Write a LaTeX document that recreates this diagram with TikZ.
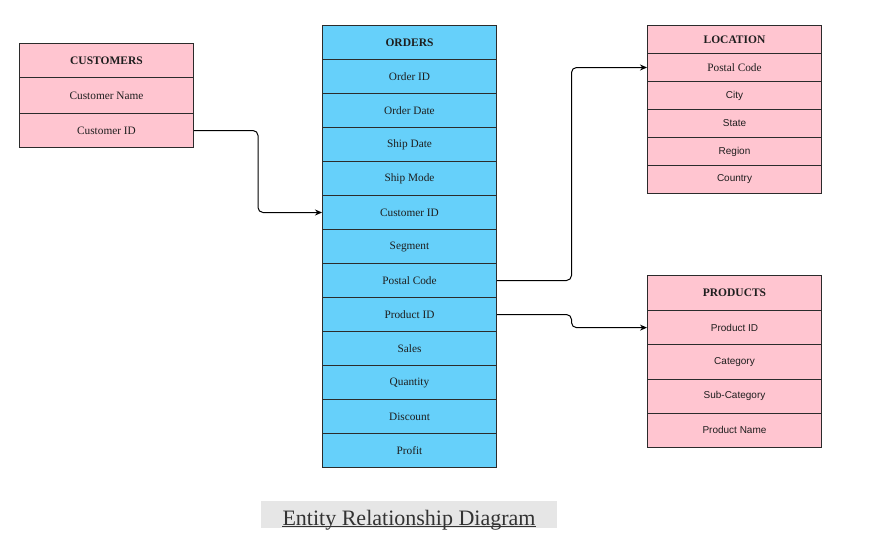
\documentclass[tikz,border=0pt]{standalone}
\usepackage{fontspec}
\setmainfont{Liberation Serif}
\newfontfamily\rowsans{Liberation Sans}
\usetikzlibrary{arrows.meta}
\definecolor{pinkfill}{HTML}{FFC5D0}
\definecolor{bluefill}{HTML}{66D0FA}
\definecolor{edgecol}{HTML}{2B2B2B}
\definecolor{titlebg}{HTML}{E6E6E6}
\definecolor{txt}{HTML}{1E1E1E}
\definecolor{titletxt}{HTML}{333333}
\tikzset{
  cell/.style={draw=edgecol, line width=1pt, anchor=north west, inner sep=0pt, text=txt, align=center},
  pinkcell/.style={cell, fill=pinkfill},
  bluecell/.style={cell, fill=bluefill},
  head/.style={font=\fontsize{11.5}{13}\selectfont\bfseries},
  srow/.style={font=\fontsize{11.3}{13}\selectfont},
  ssans/.style={font=\rowsans\fontsize{10}{12}\selectfont},
  conn/.style={draw=black, line width=1pt, rounded corners=5pt, -{Stealth[length=7pt,width=6pt]}},
}
% \ERrow{name}{style}{x}{ytop}{height}{fontstyle}{text}
\newcommand\ERrow[7]{\node[#2,#6,minimum width=174pt,minimum height=#5pt] (#1) at (#3,-#4) {#7};}
\begin{document}
\begin{tikzpicture}[x=1pt,y=1pt]
\useasboundingbox (0,0) rectangle (873,-552);
% CUSTOMERS
\ERrow{custh}{pinkcell}{19}{43}{34}{head}{CUSTOMERS}
\ERrow{cname}{pinkcell}{19}{77}{36}{srow}{Customer Name}
\ERrow{cid}{pinkcell}{19}{113}{34}{srow}{Customer ID}
% ORDERS
\ERrow{ordh}{bluecell}{322}{25}{34}{head}{ORDERS}
\ERrow{oid}{bluecell}{322}{59}{34}{srow}{Order ID}
\ERrow{odate}{bluecell}{322}{93}{34}{srow}{Order Date}
\ERrow{oship}{bluecell}{322}{127}{34}{srow}{Ship Date}
\ERrow{omode}{bluecell}{322}{161}{34}{srow}{Ship Mode}
\ERrow{ocid}{bluecell}{322}{195}{34}{srow}{Customer ID}
\ERrow{oseg}{bluecell}{322}{229}{34}{srow}{Segment}
\ERrow{opost}{bluecell}{322}{263}{34}{srow}{Postal Code}
\ERrow{oprod}{bluecell}{322}{297}{34}{srow}{Product ID}
\ERrow{osales}{bluecell}{322}{331}{34}{srow}{Sales}
\ERrow{oqty}{bluecell}{322}{365}{34}{srow}{Quantity}
\ERrow{odisc}{bluecell}{322}{399}{34}{srow}{Discount}
\ERrow{oprofit}{bluecell}{322}{433}{34}{srow}{Profit}
% LOCATION
\ERrow{loch}{pinkcell}{647}{25}{28}{head}{LOCATION}
\ERrow{lpost}{pinkcell}{647}{53}{28}{srow}{Postal Code}
\ERrow{lcity}{pinkcell}{647}{81}{28}{ssans}{City}
\ERrow{lstate}{pinkcell}{647}{109}{28}{ssans}{State}
\ERrow{lregion}{pinkcell}{647}{137}{28}{ssans}{Region}
\ERrow{lcountry}{pinkcell}{647}{165}{28}{ssans}{Country}
% PRODUCTS
\ERrow{prodh}{pinkcell}{647}{275}{35}{head}{PRODUCTS}
\ERrow{pid}{pinkcell}{647}{310}{34.25}{ssans}{Product ID}
\ERrow{pcat}{pinkcell}{647}{344.25}{34.25}{ssans}{Category}
\ERrow{psub}{pinkcell}{647}{378.5}{34.25}{ssans}{Sub-Category}
\ERrow{pname}{pinkcell}{647}{412.75}{34.25}{ssans}{Product Name}
% connectors
\coordinate (k1) at (258,0);
\coordinate (k2) at (571.5,0);
\draw[conn] (cid.east) -- (cid.east -| k1) |- (ocid.west);
\draw[conn] (opost.east) -- (opost.east -| k2) |- (lpost.west);
\draw[conn] (oprod.east) -- (oprod.east -| k2) |- (pid.west);
% title
\node[fill=titlebg, minimum width=296pt, minimum height=27pt, inner sep=0pt, anchor=north west] (titlebox) at (261,-501) {};
\node[text=titletxt, font=\fontsize{22}{26}\selectfont, anchor=base, inner sep=0pt] (title) at (409,-525) {Entity Relationship Diagram};
\draw[titletxt, line width=1pt] ([yshift=-1.6pt]title.base west) -- ([yshift=-1.6pt]title.base east);
\end{tikzpicture}
\end{document}
